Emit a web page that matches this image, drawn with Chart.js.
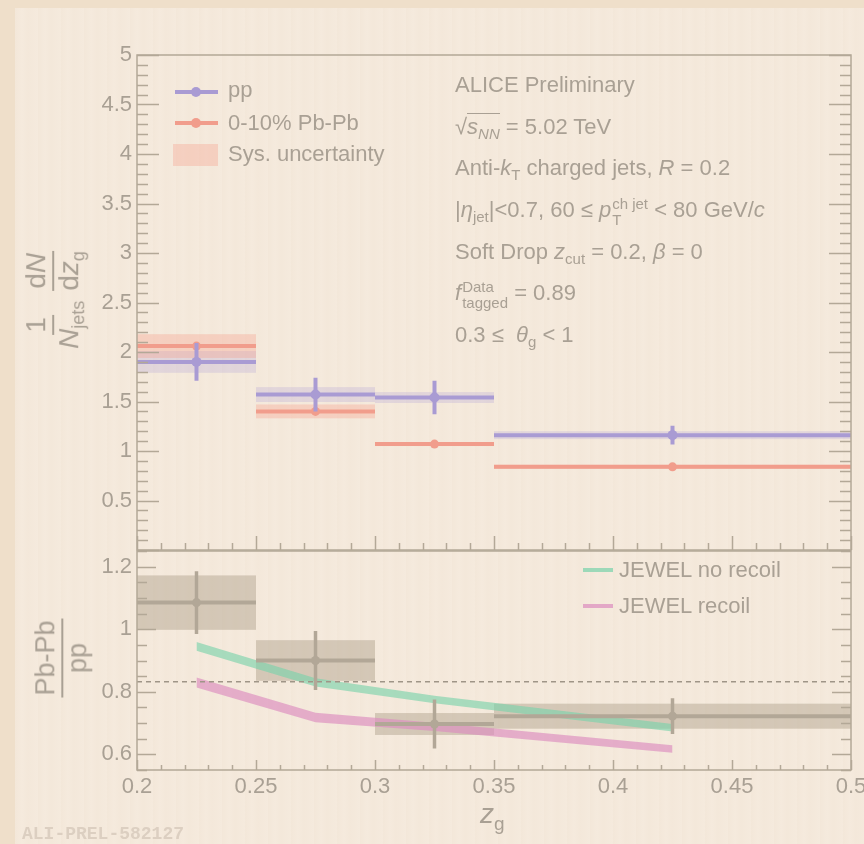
<!DOCTYPE html>
<html>
<head>
<meta charset="utf-8">
<script src="https://cdn.jsdelivr.net/npm/chart.js@4.4.1/dist/chart.umd.min.js"></script>
<style>
  html, body { margin: 0; padding: 0; }
  body {
    width: 864px; height: 844px; position: relative; overflow: hidden;
    background: #efdfca;
    font-family: 'Liberation Sans', Arial, Helvetica, sans-serif;
    color: #a9a094;
  }
  #panel {
    position: absolute; left: 15px; top: 8px; right: 0; bottom: 0;
    background: #f5eadd;
    background-image: repeating-linear-gradient(90deg, rgba(225,205,180,0.10) 0px, rgba(225,205,180,0.0) 7px, rgba(225,205,180,0.08) 13px, rgba(225,205,180,0.0) 23px);
  }
  canvas { position: absolute; left: 0; top: 0; }
  .t { position: absolute; white-space: nowrap; font-size: 22px; line-height: 22px; }
  .t sub, .t sup { font-size: 15px; line-height: 0; }
  .t sub { vertical-align: -5px; }
  .t sup { vertical-align: 9px; }
  .ss { display: inline-flex; flex-direction: column; align-items: flex-start; font-size: 15px; line-height: 16px; vertical-align: 8px; margin-left: 1px; }
  .mk { position: absolute; }
  .frac { display: inline-flex; flex-direction: column; align-items: center; vertical-align: middle; margin: 0 3px; }
  .frac > span { padding: 0 2px; line-height: 1.1; }
  .frac > span.num { border-bottom: 2px solid #a9a094; }
  .rot { position: absolute; transform: translate(-50%, -50%) rotate(-90deg); white-space: nowrap; }
  .rot sub { font-size: 18px; line-height: 0; vertical-align: -6px; }
  #wm { position: absolute; left: 22px; top: 824px; font-family: 'Liberation Mono', 'DejaVu Sans Mono', monospace; font-weight: bold; font-size: 18px; color: #dccfc1; }
</style>
</head>
<body>
<div id="panel"></div>
<canvas id="top" width="864" height="844"></canvas>
<canvas id="bottom" width="864" height="844"></canvas>

<!-- legend, upper panel -->
<div class="mk" style="left:175px;top:90px;width:43px;height:4px;background:#a99bd3"></div>
<div class="mk" style="left:191px;top:87px;width:10px;height:10px;border-radius:50%;background:#a99bd3"></div>
<div class="t" style="left:228px;top:79px">pp</div>
<div class="mk" style="left:175px;top:121px;width:43px;height:4px;background:#f19d8c"></div>
<div class="mk" style="left:191px;top:118px;width:10px;height:10px;border-radius:50%;background:#f19d8c"></div>
<div class="t" style="left:228px;top:112px">0-10% Pb-Pb</div>
<div class="mk" style="left:173px;top:144px;width:45px;height:22px;background:rgba(245,160,140,0.35)"></div>
<div class="t" style="left:228px;top:143px">Sys. uncertainty</div>

<!-- annotations -->
<div class="t" style="left:455px;top:74px">ALICE Preliminary</div>
<div class="t" style="left:455px;top:116px">√<span style="border-top:1.5px solid #a9a094"><i>s</i><sub><i>NN</i></sub></span> = 5.02 TeV</div>
<div class="t" style="left:455px;top:157px">Anti-<i>k</i><sub>T</sub> charged jets, <i>R</i> = 0.2</div>
<div class="t" style="left:455px;top:196px">|<i>η</i><sub>jet</sub>|&lt;0.7, 60 ≤ <i>p</i><span class="ss"><span>ch jet</span><span>T</span></span> &lt; 80 GeV/<i>c</i></div>
<div class="t" style="left:455px;top:241px">Soft Drop <i>z</i><sub>cut</sub> = 0.2, <i>β</i> = 0</div>
<div class="t" style="left:455px;top:279px"><i>f</i><span class="ss"><span>Data</span><span>tagged</span></span> = 0.89</div>
<div class="t" style="left:455px;top:324px">0.3 ≤ &nbsp;<i>θ</i><sub>g</sub> &lt; 1</div>

<!-- legend, ratio panel -->
<div class="mk" style="left:583px;top:568px;width:30px;height:4px;background:rgba(120,210,170,0.7)"></div>
<div class="t" style="left:619px;top:559px">JEWEL no recoil</div>
<div class="mk" style="left:583px;top:604px;width:30px;height:4px;background:rgba(220,140,190,0.7)"></div>
<div class="t" style="left:619px;top:595px">JEWEL recoil</div>

<!-- axis titles -->
<div class="rot" style="left:53px;top:300px;font-size:28px">
  <span class="frac"><span class="num">1</span><span><i>N</i><sub>jets</sub></span></span><span class="frac"><span class="num">d<i>N</i></span><span>d<i>z</i><sub>g</sub></span></span>
</div>
<div class="rot" style="left:62px;top:658px;font-size:27px">
  <span class="frac"><span class="num">Pb-Pb</span><span>pp</span></span>
</div>
<div class="t" style="left:480px;top:800px;font-size:28px;line-height:28px"><i>z</i><sub style="font-size:19px;vertical-align:-7px">g</sub></div>

<div id="wm">ALI-PREL-582127</div>

<script>
// z_g bins
const binLo = [0.2, 0.25, 0.3, 0.35];
const binHi = [0.25, 0.3, 0.35, 0.5];
const binCenter = [0.225, 0.275, 0.325, 0.425];

// 1/N dN/dz_g
const ppVal = [1.90, 1.57, 1.54, 1.16];
const ppStat = [0.19, 0.17, 0.17, 0.095];
const ppSys = [0.11, 0.075, 0.055, 0.04];
const pbVal = [2.06, 1.40, 1.07, 0.84];
const pbStat = [0.02, 0.02, 0.015, 0.01];
const pbSys = [0.12, 0.07, 0.02, 0.02];

// Pb-Pb / pp
const ratioVal = [1.085, 0.90, 0.697, 0.722];
const ratioStat = [0.10, 0.094, 0.078, 0.057];
const ratioSys = [0.087, 0.065, 0.035, 0.04];
const ratioRef = 0.832;

// JEWEL curves
const jewelX = [0.225, 0.275, 0.325, 0.425];
const jewelNoRecoil = [0.945, 0.83, 0.775, 0.685];
const jewelNoRecoilErr = [0.014, 0.013, 0.012, 0.012];
const jewelRecoil = [0.83, 0.718, 0.688, 0.617];
const jewelRecoilErr = [0.016, 0.015, 0.013, 0.012];

// tick labels
const xTickValues = [0.2, 0.25, 0.3, 0.35, 0.4, 0.45, 0.5];
const xTickLabels = ['0.2', '0.25', '0.3', '0.35', '0.4', '0.45', '0.5'];
const yTickValues = [0.5, 1, 1.5, 2, 2.5, 3, 3.5, 4, 4.5, 5];
const yTickLabels = ['0.5', '1', '1.5', '2', '2.5', '3', '3.5', '4', '4.5', '5'];
const rTickValues = [0.6, 0.8, 1, 1.2];
const rTickLabels = ['0.6', '0.8', '1', '1.2'];

const TEXT = '#a9a094';
const FRAME = '#b3a897';
const PP = '#a99bd3';
const PB = '#f19d8c';
const RATIO = '#b2a797';

// horizontal bin segments, broken by nulls
function binLine(vals) {
    return binLo.flatMap((lo, i) => [{x: lo, y: vals[i]}, {x: binHi[i], y: vals[i]}, {x: binHi[i], y: null}]);
}
// vertical stat. error segments
function errBars(vals, errs) {
    return binCenter.flatMap((c, i) => [{x: c, y: vals[i] - errs[i]}, {x: c, y: vals[i] + errs[i]}, {x: c, y: null}]);
}
function pts(xs, vals) {
    return xs.map((x, i) => ({x: x, y: vals[i]}));
}

// systematic boxes, drawn under the datasets
const sysBoxes = {
    id: 'sysBoxes',
    beforeDatasetsDraw(chart, args, o) {
        const {ctx, scales: {x, y}} = chart;
        ctx.save();
        o.sets.forEach(s => {
            ctx.fillStyle = s.color;
            s.val.forEach((v, i) => {
                const x0 = x.getPixelForValue(binLo[i]), x1 = x.getPixelForValue(binHi[i]);
                const y0 = y.getPixelForValue(v + s.err[i]), y1 = y.getPixelForValue(v - s.err[i]);
                ctx.fillRect(x0, y0, x1 - x0, y1 - y0);
            });
        });
        ctx.restore();
    }
};

// ROOT-like frame with inward ticks
const rootFrame = {
    id: 'rootFrame',
    afterDatasetsDraw(chart, args, o) {
        const {ctx, chartArea: a, scales: {x, y}} = chart;
        ctx.save();
        ctx.strokeStyle = FRAME;
        ctx.lineWidth = 1.5;
        ctx.strokeRect(a.left, a.top, a.right - a.left, a.bottom - a.top);
        ctx.beginPath();
        const isMajor = (v, every) => Math.abs(v / every - Math.round(v / every)) < 1e-6;
        for (let k = Math.ceil(x.min / o.xStep - 1e-6); k * o.xStep <= x.max + 1e-9; k++) {
            const v = k * o.xStep;
            const len = isMajor(v, o.xEvery) ? o.xMaj : o.xMin;
            const px = Math.round(x.getPixelForValue(v)) + 0.5;
            ctx.moveTo(px, a.bottom);
            ctx.lineTo(px, a.bottom - len);
        }
        for (let k = Math.ceil(y.min / o.yStep - 1e-6); k * o.yStep <= y.max + 1e-9; k++) {
            const v = k * o.yStep;
            const len = isMajor(v, o.yEvery) ? o.yMaj : o.yMin;
            const py = Math.round(y.getPixelForValue(v)) + 0.5;
            ctx.moveTo(a.left, py);
            ctx.lineTo(a.left + len, py);
            ctx.moveTo(a.right, py);
            ctx.lineTo(a.right - len, py);
        }
        ctx.stroke();
        ctx.restore();
    }
};

const tickFont = {family: "'Liberation Sans', Arial, sans-serif", size: 22};

function segLine(data, color, width, order) {
    return {type: 'line', data: data, borderColor: color, borderWidth: width, pointRadius: 0,
            tension: 0, spanGaps: false, borderCapStyle: 'butt', fill: false, order: order};
}
function dots(data, color, r, order) {
    return {type: 'scatter', data: data, backgroundColor: color, borderColor: color, pointRadius: r,
            pointBorderWidth: 0, order: order};
}

// --- upper panel ---
new Chart(document.getElementById('top'), {
    type: 'line',
    data: {
        datasets: [
            dots(pts(binCenter, ppVal), PP, 5, 1),
            segLine(errBars(ppVal, ppStat), PP, 4, 2),
            segLine(binLine(ppVal), PP, 4, 3),
            dots(pts(binCenter, pbVal), PB, 4.5, 4),
            segLine(errBars(pbVal, pbStat), PB, 3, 5),
            segLine(binLine(pbVal), PB, 4, 6)
        ]
    },
    options: {
        responsive: false,
        animation: false,
        devicePixelRatio: 1,
        layout: {padding: {top: 55, bottom: 294, left: 0, right: 13}},
        scales: {
            x: {type: 'linear', min: 0.2, max: 0.5, display: false},
            y: {
                type: 'linear', min: 0, max: 5,
                grid: {display: false, drawTicks: false}, border: {display: false},
                afterBuildTicks: s => { s.ticks = yTickValues.map(v => ({value: v})); },
                afterFit: s => { s.width = 137; s.paddingTop = 0; s.paddingBottom = 0; },
                ticks: {font: tickFont, color: TEXT, padding: 5, callback: (v, i) => yTickLabels[i]}
            }
        },
        plugins: {
            legend: {display: false},
            tooltip: {enabled: false},
            sysBoxes: {sets: [
                {val: ppVal, err: ppSys, color: 'rgba(175,160,215,0.28)'},
                {val: pbVal, err: pbSys, color: 'rgba(245,160,140,0.35)'}
            ]},
            rootFrame: {xStep: 0.01, xEvery: 0.05, xMaj: 14, xMin: 7, yStep: 0.1, yEvery: 0.5, yMaj: 22, yMin: 11}
        }
    },
    plugins: [sysBoxes, rootFrame]
});

// --- ratio panel ---
new Chart(document.getElementById('bottom'), {
    type: 'line',
    data: {
        datasets: [
            dots(pts(binCenter, ratioVal), RATIO, 4.5, 1),
            segLine(errBars(ratioVal, ratioStat), RATIO, 3.5, 2),
            segLine(binLine(ratioVal), RATIO, 4, 3),
            Object.assign(segLine([{x: 0.2, y: ratioRef}, {x: 0.5, y: ratioRef}], '#9f9587', 1.5, 4), {borderDash: [5, 4]}),
            segLine(pts(jewelX, jewelNoRecoil.map((v, i) => v - jewelNoRecoilErr[i])), 'rgba(0,0,0,0)', 0, 10),
            Object.assign(segLine(pts(jewelX, jewelNoRecoil.map((v, i) => v + jewelNoRecoilErr[i])), 'rgba(0,0,0,0)', 0, 9),
                {fill: '-1', backgroundColor: 'rgba(120,210,170,0.62)'}),
            segLine(pts(jewelX, jewelRecoil.map((v, i) => v - jewelRecoilErr[i])), 'rgba(0,0,0,0)', 0, 12),
            Object.assign(segLine(pts(jewelX, jewelRecoil.map((v, i) => v + jewelRecoilErr[i])), 'rgba(0,0,0,0)', 0, 11),
                {fill: '-1', backgroundColor: 'rgba(220,140,190,0.65)'})
        ]
    },
    options: {
        responsive: false,
        animation: false,
        devicePixelRatio: 1,
        layout: {padding: {top: 551, bottom: 0, left: 0, right: 13}},
        scales: {
            x: {
                type: 'linear', min: 0.2, max: 0.5,
                grid: {display: false, drawTicks: false}, border: {display: false},
                afterBuildTicks: s => { s.ticks = xTickValues.map(v => ({value: v})); },
                afterFit: s => { s.height = 74; s.paddingLeft = 0; s.paddingRight = 0; },
                ticks: {font: tickFont, color: TEXT, padding: 4, maxRotation: 0, autoSkip: false,
                        callback: (v, i) => xTickLabels[i]}
            },
            y: {
                type: 'linear', min: 0.55, max: 1.25,
                grid: {display: false, drawTicks: false}, border: {display: false},
                afterBuildTicks: s => { s.ticks = rTickValues.map(v => ({value: v})); },
                afterFit: s => { s.width = 137; s.paddingTop = 0; s.paddingBottom = 0; },
                ticks: {font: tickFont, color: TEXT, padding: 5, callback: (v, i) => rTickLabels[i]}
            }
        },
        plugins: {
            legend: {display: false},
            tooltip: {enabled: false},
            filler: {propagate: false},
            sysBoxes: {sets: [{val: ratioVal, err: ratioSys, color: 'rgba(168,152,132,0.42)'}]},
            rootFrame: {xStep: 0.01, xEvery: 0.05, xMaj: 10, xMin: 5, yStep: 0.05, yEvery: 0.2, yMaj: 19, yMin: 10}
        }
    },
    plugins: [sysBoxes, rootFrame]
});
</script>
</body>
</html>
